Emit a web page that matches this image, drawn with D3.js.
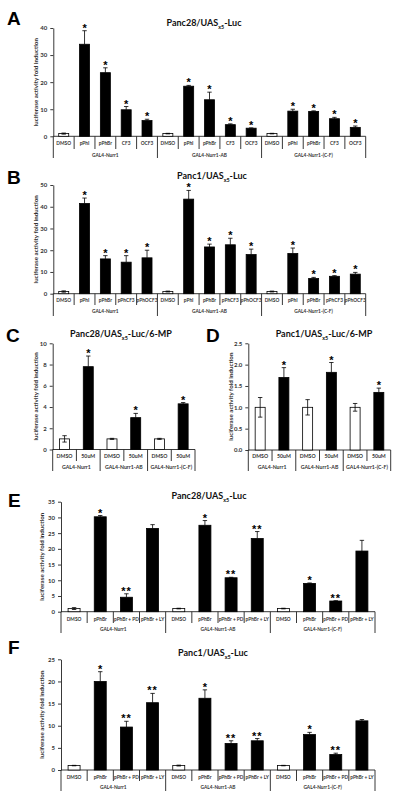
<!DOCTYPE html>
<html><head><meta charset="utf-8">
<script src="https://cdn.jsdelivr.net/npm/d3@7"></script>
<style>body{margin:0;background:#fff}svg{display:block}</style>
</head><body>
<svg id="c" width="400" height="799"></svg>
<script>
// ---------- DATA ----------
const catsA = ["DMSO","pPhI","pPhBr","CF3","OCF3","DMSO","pPhI","pPhBr","CF3","OCF3","DMSO","pPhI","pPhBr","CF3","OCF3"];
const valsA = [1,34,23.5,9.8,5.8, 1,18.5,13.5,4.3,3, 1,9.3,9.2,6.5,3.3];
const errA  = [0.2,5,1.8,1.2,0.5, 0.1,0.3,2.8,0.3,0.1, 0.1,0.7,0.2,0.5,0.5];
const starA = ["","*","*","*","*","","*","*","*","*","","*","*","*","*"];
const groupsABC = ["GAL4-Nurr1","GAL4-Nurr1-AB","GAL4-Nurr1-(C-F)"];
const ticksA = [0,10,20,30,40];

const catsB = ["DMSO","pPhI","pPhBr","pPhCF3","pPhOCF3","DMSO","pPhI","pPhBr","pPhCF3","pPhOCF3","DMSO","pPhI","pPhBr","pPhCF3","pPhOCF3"];
const valsB = [1,41.5,16,14.5,16.5, 1,43.5,21.5,22.5,18, 1,18.5,7,8,9];
const errB  = [0.3,2.5,1.5,3,3.5, 0.2,4,1.3,3,2.5, 0.2,2.5,0.5,0.3,0.8];
const starB = ["","*","*","*","*","","*","*","*","*","","*","*","*","*"];
const ticksB = [0,10,20,30,40,50];

const catsCD = ["DMSO","50uM","DMSO","50uM","DMSO","50uM"];
const valsC = [1,7.8,1,3.0,1,4.3];
const errC  = [0.3,1.0,0.05,0.4,0.05,0.12];
const starC = ["","*","","*","","*"];
const ticksC = [0,2,4,6,8,10];

const valsD = [1,1.7,1,1.82,1,1.35];
const errD  = [0.23,0.23,0.18,0.23,0.09,0.1];
const starD = ["","*","","*","","*"];
const ticksD = [0,0.5,1.0,1.5,2.0,2.5];

const catsEF = ["DMSO","pPhBr","pPhBr + PD","pPhBr + LY","DMSO","pPhBr","pPhBr + PD","pPhBr + LY","DMSO","pPhBr","pPhBr + PD","pPhBr + LY"];
const valsE = [1,30.2,4.6,26.5, 1,27.5,10.8,23.3, 1,9,3.4,19.3];
const errE  = [0.3,0.4,1.1,1.2, 0.1,1.5,0.15,2.2, 0.1,0.15,0.1,3.4];
const starE = ["","*","**","", "","*","**","**", "","*","**",""];
const ticksE = [0,5,10,15,20,25,30,35];

const valsF = [1,20,9.7,15.2, 1,16.2,6,6.6, 1,8,3.5,11.1];
const errF  = [0.05,2.2,1.3,2.1, 0.1,1.9,0.6,0.5, 0.05,0.5,0.3,0.3];
const starF = ["","*","**","**", "","*","**","**", "","*","**",""];
const ticksF = [0,5,10,15,20,25];

// ---------- DRAW ----------
const svg = d3.select("#c");
const FONT = "Lato, 'Open Sans', 'Liberation Sans', sans-serif";

function panel(c){
  const g = svg.append("g");
  const n = c.cats.length;
  const x = d3.scaleBand().domain(d3.range(n)).range([c.x0, c.x1]).padding(0);
  const y = d3.scaleLinear().domain([0, c.ymax]).range([c.yb, c.yt]);
  const bw = x.bandwidth();

  const ax = d3.axisLeft(y).tickValues(c.ticks).tickSize(3).tickSizeOuter(0).tickPadding(3)
      .tickFormat(c.fmt || d3.format("d"));
  const ag = g.append("g").attr("transform", `translate(${c.x0},0)`).call(ax);
  ag.select(".domain").attr("stroke","#222").attr("stroke-width",0.9);
  ag.selectAll(".tick line").attr("stroke","#222").attr("stroke-width",0.9);
  ag.selectAll(".tick text").attr("font-family",FONT).attr("font-size",c.tickFs||6)
    .attr("font-weight","bold").attr("fill","#333");

  g.append("line").attr("x1",c.x0).attr("x2",c.x1).attr("y1",c.yb).attr("y2",c.yb)
    .attr("stroke","#222").attr("stroke-width",0.9);

  const gs = c.cats.length / c.groups.length;
  d3.range(n+1).forEach(i=>{
    const xx = c.x0 + i*bw;
    const isG = i % gs === 0;
    g.append("line").attr("x1",xx).attr("x2",xx).attr("y1",c.yb)
      .attr("y2", isG ? c.gEnd : c.cEnd).attr("stroke","#222").attr("stroke-width",0.9);
  });

  g.selectAll("rect.bar").data(c.vals).join("rect")
    .attr("x",(d,i)=>x(i)+(bw-c.barW)/2).attr("width",c.barW)
    .attr("y",d=>y(d)).attr("height",d=>c.yb-y(d))
    .attr("fill",(d,i)=>c.cats[i]==="DMSO"?"#fff":"#000")
    .attr("stroke","#000").attr("stroke-width",0.8);

  const cap = c.cap || 2.2;
  c.vals.forEach((v,i)=>{
    const cx = x(i)+bw/2, e = c.errs[i];
    const hi = y(v+e), lo = y(Math.max(0,v-e));
    const white = c.cats[i]==="DMSO";
    g.append("line").attr("x1",cx).attr("x2",cx).attr("y1",white?lo:y(v)).attr("y2",hi)
      .attr("stroke","#000").attr("stroke-width",0.8);
    g.append("line").attr("x1",cx-cap).attr("x2",cx+cap).attr("y1",hi).attr("y2",hi)
      .attr("stroke","#000").attr("stroke-width",0.8);
    if(white){
      g.append("line").attr("x1",cx-cap).attr("x2",cx+cap).attr("y1",lo).attr("y2",lo)
        .attr("stroke","#000").attr("stroke-width",0.8);
    }
    if(c.stars[i]){
      g.append("text").attr("x",cx).attr("y",hi+1).attr("text-anchor","middle")
        .attr("font-family","'Liberation Sans', Arial, sans-serif").attr("font-weight","bold")
        .attr("font-size",11).attr("letter-spacing",c.stars[i].length>1?1:0).text(c.stars[i]);
    }
  });

  c.cats.forEach((t,i)=>{
    g.append("text").attr("x",x(i)+bw/2).attr("y",c.cY).attr("text-anchor","middle")
      .attr("font-family",FONT).attr("font-size",c.catFs||4.8).attr("font-weight","bold").attr("fill","#333").text(t);
  });
  c.groups.forEach((t,k)=>{
    g.append("text").attr("x",c.x0 + (k+0.5)*gs*bw).attr("y",c.gY).attr("text-anchor","middle")
      .attr("font-family",FONT).attr("font-size",c.grpFs||4.8).attr("font-weight","bold").attr("fill","#333").text(t);
  });

  g.append("text").attr("transform",`translate(${c.ylx},${(c.yb+c.yt)/2}) rotate(-90)`)
    .attr("text-anchor","middle").attr("font-family",FONT).attr("font-size",c.ylFs||6.2)
    .attr("font-weight","bold").attr("fill","#333").text("luciferase activity fold induction");

  const tt = g.append("text").attr("x",c.tx).attr("y",c.ty).attr("text-anchor","middle")
    .attr("font-family",FONT).attr("font-weight","bold").attr("font-size",c.tFs||9).attr("fill","#111");
  tt.append("tspan").text(c.t1);
  tt.append("tspan").attr("font-size",(c.tFs||9)*0.6).attr("dy",2.5).text("x5");
  tt.append("tspan").attr("dy",-2.5).text(c.t2);

  g.append("text").attr("x",c.lx).attr("y",c.ly).attr("font-family","'Liberation Sans', Arial, sans-serif")
    .attr("font-weight","bold").attr("font-size",19).attr("fill","#000").text(c.letter);
}

panel({cats:catsA, vals:valsA, errs:errA, stars:starA, groups:groupsABC, ticks:ticksA,
  x0:53.3, x1:365.7, yb:136.3, yt:28, ymax:40, barW:10,
  cEnd:149, gEnd:158, cY:145, gY:156.5, ylx:38,
  tx:204, ty:26, t1:"Panc28/UAS", t2:"-Luc", letter:"A", lx:7, ly:25});

panel({cats:catsB, vals:valsB, errs:errB, stars:starB, groups:groupsABC, ticks:ticksB,
  x0:53.3, x1:365.7, yb:293.7, yt:185, ymax:50, barW:10,
  cEnd:305, gEnd:316, cY:302, gY:312.5, ylx:38,
  tx:212, ty:179, t1:"Panc1/UAS", t2:"-Luc", letter:"B", lx:7, ly:184});

panel({cats:catsCD, vals:valsC, errs:errC, stars:starC, groups:groupsABC, ticks:ticksC,
  x0:52.7, x1:195, yb:449.5, yt:343.3, ymax:10, barW:10, catFs:5.2, grpFs:5.2,
  cEnd:461, gEnd:471, cY:458, gY:468.5, ylx:38,
  tx:121, ty:337, t1:"Panc28/UAS", t2:"-Luc/6-MP", letter:"C", lx:6, ly:342});

panel({cats:catsCD, vals:valsD, errs:errD, stars:starD, groups:groupsABC, ticks:ticksD, fmt:d3.format(".1f"),
  x0:248.3, x1:390.7, yb:450, yt:343.3, ymax:2.5, barW:10, catFs:5.2, grpFs:5.2,
  cEnd:461, gEnd:471, cY:458, gY:468.5, ylx:233,
  tx:324, ty:337, t1:"Panc1/UAS", t2:"-Luc/6-MP", letter:"D", lx:206, ly:342});

panel({cats:catsEF, vals:valsE, errs:errE, stars:starE, groups:groupsABC, ticks:ticksE,
  x0:61, x1:375, yb:611.7, yt:501.7, ymax:35, barW:12,
  cEnd:623, gEnd:633, cY:620.5, gY:630.5, ylx:44,
  tx:209, ty:499, t1:"Panc28/UAS", t2:"-Luc", letter:"E", lx:8, ly:507});

panel({cats:catsEF, vals:valsF, errs:errF, stars:starF, groups:groupsABC, ticks:ticksF,
  x0:61, x1:375, yb:770, yt:659.3, ymax:25, barW:12,
  cEnd:781, gEnd:791, cY:778.5, gY:788.5, ylx:44,
  tx:213, ty:656, t1:"Panc1/UAS", t2:"-Luc", letter:"F", lx:8, ly:654});
</script>
</body></html>
